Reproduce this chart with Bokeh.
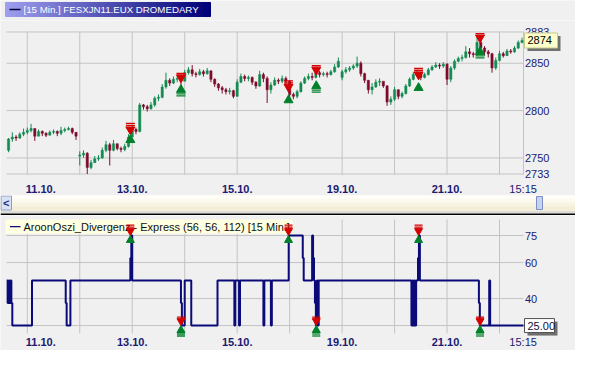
import numpy as np
from bokeh.plotting import figure
from bokeh.models import Range1d
from bokeh.layouts import column
from bokeh.embed import file_html
from bokeh.resources import INLINE
from bokeh.core.properties import value

# ---------------- data (hourly bars, bar 0 = 11.10. 08:00, 14 bars per trading day) -------------
bar_start = -5
closes = [2770, 2772, 2771, 2775, 2777, 2779, 2781, 2773, 2778, 2776, 2774, 2777, 2778, 2776, 2779,
          2780, 2781, 2777, 2773,
          2753, 2755, 2740, 2745, 2749, 2750, 2758, 2764, 2758, 2765, 2760, 2759, 2762, 2772,
          2780, 2778, 2806, 2804, 2802, 2806, 2813, 2814, 2825, 2832, 2829, 2833, 2834, 2831,
          2840, 2843, 2839, 2838, 2841, 2839, 2842, 2833, 2828, 2824, 2822, 2820, 2821, 2815,
          2830, 2836, 2834, 2835, 2830, 2826, 2838, 2834, 2822, 2827, 2832, 2831, 2834, 2831,
          2817, 2815, 2820, 2829, 2834, 2836, 2835, 2840, 2838, 2839, 2838, 2841, 2846, 2852,
          2841, 2843, 2845, 2847, 2850, 2839, 2832, 2822, 2825, 2830, 2831, 2826, 2809, 2812,
          2822, 2815, 2818, 2826, 2833, 2838, 2840, 2835, 2838, 2843, 2846, 2848, 2847, 2849,
          2833, 2845, 2852, 2855, 2856, 2862, 2860, 2859, 2872, 2866, 2862, 2860, 2845, 2853,
          2860, 2858, 2863, 2862, 2866, 2872, 2874]
highs = [2771, 2777, 2774, 2777, 2781, 2782, 2786, 2781, 2780, 2779, 2777, 2779, 2780, 2779, 2783,
         2782, 2783, 2782, 2777,
         2757, 2758, 2756, 2748, 2752, 2753, 2761, 2768, 2766, 2769, 2765, 2762, 2765, 2775,
         2784, 2782, 2808, 2807, 2806, 2809, 2815, 2817, 2828, 2840, 2834, 2836, 2837, 2836,
         2843, 2846, 2848, 2841, 2844, 2843, 2845, 2842, 2834, 2829, 2826, 2824, 2824, 2822,
         2833, 2839, 2838, 2837, 2836, 2831, 2842, 2840, 2836, 2830, 2835, 2834, 2837, 2836,
         2832, 2819, 2822, 2831, 2836, 2839, 2840, 2843, 2842, 2841, 2841, 2843, 2849, 2856,
         2843, 2846, 2847, 2849, 2857, 2852, 2840, 2832, 2829, 2833, 2834, 2830, 2827, 2815,
         2825, 2822, 2820, 2828, 2835, 2841, 2843, 2839, 2840, 2845, 2848, 2851, 2850, 2851,
         2850, 2847, 2854, 2857, 2859, 2868, 2866, 2862, 2878, 2875, 2868, 2864, 2861, 2856,
         2863, 2862, 2865, 2865, 2868, 2874, 2877]
lows = [2756, 2767, 2768, 2770, 2773, 2775, 2777, 2768, 2773, 2773, 2772, 2774, 2775, 2773, 2774,
        2777, 2779, 2775, 2769,
        2742, 2750, 2733, 2738, 2745, 2747, 2749, 2756, 2742, 2757, 2758, 2756, 2757, 2761,
        2772, 2775, 2777, 2801, 2799, 2801, 2804, 2810, 2813, 2823, 2826, 2828, 2830, 2827,
        2831, 2838, 2836, 2835, 2837, 2836, 2838, 2830, 2825, 2821, 2818, 2817, 2817, 2813,
        2815, 2829, 2831, 2831, 2827, 2823, 2825, 2830, 2808, 2818, 2826, 2828, 2829, 2828,
        2813, 2812, 2813, 2819, 2828, 2832, 2832, 2834, 2835, 2836, 2835, 2837, 2840, 2845,
        2832, 2839, 2841, 2843, 2845, 2836, 2829, 2818, 2817, 2824, 2826, 2824, 2805, 2806,
        2810, 2812, 2813, 2817, 2825, 2832, 2836, 2832, 2834, 2837, 2842, 2845, 2844, 2845,
        2827, 2830, 2843, 2851, 2852, 2855, 2856, 2856, 2858, 2860, 2858, 2856, 2840, 2843,
        2852, 2856, 2858, 2860, 2861, 2865, 2871]
gap_opens = {-5: 2758, 14: 2752, 84: 2835}
last_price = 2874

day_starts = [0, 14, 28, 42, 56, 70, 84, 98, 112, 126]
date_ticks = [3.6, 28, 56, 84, 112]
date_labels = ["11.10.", "13.10.", "15.10.", "19.10.", "21.10."]
time_tick = 132.3
time_label = "15:15"
price_ticks = [2733, 2750, 2800, 2850, 2883]
osc_label_ticks = [40, 60, 75]
osc_grid_ticks = [25, 40, 60, 75]
osc_last = 25
osc_last_label = "25.00"

osc_t = [-5.5, -5.25, -5.0, -4.75, -4.5, -4.25, -4.0, 1.25, 10.25, 10.5, 11.5, 27.5, 27.75, 28.0,
         41.0, 41.25, 42.0, 43.75, 50.75, 55.25, 55.5, 56.5, 56.75, 63.0, 63.25, 65.0, 65.25,
         69.75, 73.5, 73.75, 76.0, 76.25, 76.5, 76.75, 77.0, 77.25, 77.5, 77.75, 102.5, 102.75,
         103.0, 103.25, 103.5, 103.75, 104.25, 104.5, 104.75, 120.5, 120.75, 123.25, 123.5, 132.4]
osc_v = [50, 37.5, 50, 37.5, 50, 37.5, 25, 50, 37.5, 25, 50, 62.5, 75, 50,
         37.5, 25, 50, 25, 50, 25, 50, 25, 50, 25, 50, 25, 50,
         75, 62.5, 50, 75, 62.5, 50, 37.5, 25, 50, 25, 50, 25, 50,
         25, 50, 25, 50, 62.5, 75, 50, 37.5, 25, 50, 25, 25]

sig_t = [27.5, 41.0, 69.7, 77.1, 104.4, 120.8]
sig_sell = [2780, 2835, 2825, 2843, 2838, 2877]
sig_buy = [2769, 2822, 2811, 2826, 2824, 2862]
sig_osc = [75, 25, 75, 25, 75, 25]

title_text = "[15 Min.] FESXJN11.EUX DROMEDARY"
ind_text = "AroonOszi_Divergenz - Express  (56, 56, 112) [15 Min.]"

# ---------------- style ----------------
W = 575
BG = "#f0f0f0"
GRID = "#c4c4c4"
NAVY_TXT = "#1a1a70"
LINE = "#0a0a78"
UP = "#138a50"
DOWN = "#7e0a2c"
RED = "#d40000"
GREEN_SIG = "#00802a"
FONT = "Liberation Sans"
XR = (-5.55, 132.4)          # data x-extent of the panes
P_RANGE = (2732.5, 2883.5)
O_RANGE = (20.6, 83.9)
LEFT_PX, PLOT_W_PX = 6, 517


class Pane:
    """Whole-figure frame; the chart region sits inside it at fixed pixel offsets."""
    def __init__(self, height, top_px, frame_h, yr):
        self.ux = (XR[1] - XR[0]) / PLOT_W_PX
        self.uy = (yr[1] - yr[0]) / frame_h
        self.x0 = XR[0] - LEFT_PX * self.ux
        self.x1 = self.x0 + W * self.ux
        self.y1 = yr[1] + top_px * self.uy
        self.y0 = self.y1 - height * self.uy
        self.yr = yr
        self.p = figure(width=W, height=height, x_range=Range1d(self.x0, self.x1),
                        y_range=Range1d(self.y0, self.y1), output_backend="svg",
                        toolbar_location=None, x_axis_location=None, y_axis_location=None,
                        min_border=0, background_fill_color=BG, border_fill_color=BG,
                        outline_line_color=None)
        self.p.xgrid.visible = False
        self.p.ygrid.visible = False

    def dx(self, px):
        return px * self.ux

    def dy(self, px):
        return px * self.uy


def draw_grid(pn, ygrid_ticks):
    p = pn.p
    n = len(day_starts)
    p.segment(x0=day_starts, x1=day_starts, y0=[pn.yr[0]] * n, y1=[pn.yr[1]] * n,
              line_color=GRID, line_width=1)
    m = len(ygrid_ticks)
    p.segment(x0=[XR[0]] * m, x1=[XR[1]] * m, y0=ygrid_ticks, y1=ygrid_ticks,
              line_color=GRID, line_width=1)


def draw_axes_text(pn, yticks, xlab_px):
    p = pn.p
    p.text(x=[XR[1] + pn.dx(1.5)] * len(yticks), y=yticks, text=[str(t) for t in yticks],
           text_color=NAVY_TXT, text_font=value(FONT), text_font_size="11px",
           text_align="left", text_baseline="middle")
    ylab = pn.yr[0] - pn.dy(xlab_px)
    p.text(x=date_ticks, y=[ylab] * len(date_ticks), text=date_labels, text_color=NAVY_TXT,
           text_font=value(FONT), text_font_size="11px", text_font_style="bold",
           text_align="center", text_baseline="middle")
    p.text(x=[time_tick], y=[ylab], text=[time_label], text_color=NAVY_TXT,
           text_font=value(FONT), text_font_size="11px", text_align="center",
           text_baseline="middle")


def add_signals(pn, xs, red_y, green_y, kinds, size):
    p = pn.p
    r = size / 2.0
    a = r * 3 ** 0.5 / 3.0
    rb_x, rb_y, gb_x, gb_y = [], [], [], []
    for x, ry, gy, k in zip(xs, red_y, green_y, kinds):
        rb_x.append(x)
        rb_y.append(ry + pn.dy(a + 1.5))
        if k == 75:
            rb_x.append(x)
            rb_y.append(ry + pn.dy(a + 3.5))
        else:
            gb_x += [x, x]
            gb_y += [gy - pn.dy(a + 1.5), gy - pn.dy(a + 3.5)]
    p.scatter(rb_x, rb_y, marker="dash", size=size, line_color=RED, line_width=1.3)
    p.scatter(gb_x, gb_y, marker="dash", size=size, line_color=GREEN_SIG, line_width=1.3)
    p.scatter(xs, red_y, marker="inverted_triangle", size=size, fill_color=RED, line_color=RED)
    p.scatter(xs, green_y, marker="triangle", size=size, fill_color=GREEN_SIG,
              line_color=GREEN_SIG)


def tag(pn, y, text, w_px, h_px, bg, border, text_color):
    p = pn.p
    left = XR[1] + pn.dx(1)
    right = left + pn.dx(w_px)
    top = y + pn.dy(h_px / 2.0)
    bot = y - pn.dy(h_px / 2.0)
    p.quad(left=[left + pn.dx(3)], right=[right + pn.dx(3)], top=[top - pn.dy(3)],
           bottom=[bot - pn.dy(3)], fill_color="#707070", line_color=None)
    p.quad(left=[left], right=[right], top=[top], bottom=[bot], fill_color=bg,
           line_color=border, line_width=1)
    p.text(x=[left + pn.dx(3)], y=[y], text=[text], text_color=text_color,
           text_font=value(FONT), text_font_size="11px", text_align="left",
           text_baseline="middle")


# ---------------- title band ----------------
p0 = figure(width=W, height=20, x_range=Range1d(0, W), y_range=Range1d(0, 20),
            output_backend="svg", toolbar_location=None, x_axis_location=None,
            y_axis_location=None, min_border=0, background_fill_color=BG,
            border_fill_color=BG, outline_line_color=None)
p0.xgrid.visible = False
p0.ygrid.visible = False
n = 60
edges = np.linspace(5, 210, n + 1)
c0 = np.array([160, 160, 240])
c1 = np.array([0, 0, 118])
cols = ["#%02x%02x%02x" % tuple((c0 + (c1 - c0) * t).astype(int)) for t in (np.arange(n) + 0.5) / n]
p0.quad(left=edges[:-1], right=edges[1:], bottom=4, top=18, fill_color=cols, line_color=cols)
p0.segment(x0=[9], y0=[11], x1=[20], y1=[11], line_color="#00003a", line_width=1.5)
p0.text(x=[23], y=[11], text=[title_text], text_color="white", text_font=value(FONT),
        text_font_size="9.7px", text_baseline="middle")

# ---------------- price pane ----------------
bars = np.arange(bar_start, bar_start + len(closes))
opens = [gap_opens.get(int(b), closes[i - 1] if i > 0 else closes[0]) for i, b in enumerate(bars)]
ccol = [UP if c >= o else DOWN for o, c in zip(opens, closes)]
body_top = [max(o, c) for o, c in zip(opens, closes)]
body_bot = [min(o, c) for o, c in zip(opens, closes)]

pn1 = Pane(175, 11, 143, P_RANGE)
p1 = pn1.p
draw_grid(pn1, price_ticks)
p1.segment(x0=[XR[1]], x1=[XR[1]], y0=[P_RANGE[0]], y1=[P_RANGE[1]], line_color=GRID)
p1.segment(x0=bars, y0=lows, x1=bars, y1=highs, line_color=ccol, line_width=1)
p1.vbar(x=bars, top=body_top, bottom=body_bot, width=0.6, fill_color=ccol, line_color=ccol,
        line_width=0.5)
add_signals(pn1, sig_t, sig_sell, sig_buy, sig_osc, 9)
draw_axes_text(pn1, price_ticks, 14.3)
tag(pn1, last_price, str(last_price), 33, 15, "#ffffc8", "#c8c890", "#000000")

# ---------------- scrollbar ----------------
ps = figure(width=W, height=20, x_range=Range1d(0, W), y_range=Range1d(0, 20),
            output_backend="svg", toolbar_location=None, x_axis_location=None,
            y_axis_location=None, min_border=0, background_fill_color=BG,
            border_fill_color=BG, outline_line_color=None)
ps.xgrid.visible = False
ps.ygrid.visible = False
band_cols = ["#fffef8", "#fcfaee", "#f8f4e2", "#f3eed8"]
band_edges = np.linspace(20, 5, 5)
ps.quad(left=0, right=W, top=band_edges[:-1], bottom=band_edges[1:], fill_color=band_cols,
        line_color=band_cols)
ps.quad(left=[0], right=[W], top=[4.5], bottom=[2.5], fill_color="#dcdcdc", line_color=None)
ps.quad(left=[0], right=[W], top=[2], bottom=[0], fill_color="#000000", line_color=None)
ps.quad(left=[0.5], right=[11], top=[19.5], bottom=[5.5], fill_color="#d9e1f4", line_color="#8e9dc6")
ps.text(x=[5.8], y=[12.5], text=["<"], text_color="#203080", text_font=value(FONT),
        text_font_size="11px", text_font_style="bold", text_align="center", text_baseline="middle")
ps.quad(left=[536], right=[542], top=[19], bottom=[6], fill_color="#c8d3f1", line_color="#7d8fc4")

# ---------------- oscillator pane ----------------
pn2 = Pane(135, 4, 114, O_RANGE)
p2 = pn2.p
draw_grid(pn2, osc_grid_ticks)
# indicator caption box
bx0 = pn2.x0 + pn2.dx(5)
bx1 = pn2.x0 + pn2.dx(292)
by1 = pn2.y1 - pn2.dy(4)
by0 = pn2.y1 - pn2.dy(18.3)
p2.quad(left=[bx0], right=[bx1], top=[by1], bottom=[by0], fill_color="#ffffe1", line_color=None)
p2.segment(x0=[pn2.x0 + pn2.dx(9.5)], x1=[pn2.x0 + pn2.dx(20)], y0=[(by0 + by1) / 2],
           y1=[(by0 + by1) / 2], line_color=LINE, line_width=1.3)
p2.text(x=[pn2.x0 + pn2.dx(23)], y=[(by0 + by1) / 2], text=[ind_text], text_color="#101010",
        text_font=value(FONT), text_font_size="11px", text_align="left", text_baseline="middle")
p2.step(x=osc_t, y=osc_v, mode="after", line_color=LINE, line_width=2)
s2 = 8
a2 = (s2 / 2.0) * 3 ** 0.5 / 3.0
red2 = [v + pn2.dy(2 * a2) for v in sig_osc]
green2 = [v - pn2.dy(2 * a2) for v in sig_osc]
add_signals(pn2, sig_t, red2, green2, sig_osc, s2)
draw_axes_text(pn2, osc_label_ticks, 8.3)
tag(pn2, osc_last, osc_last_label, 30, 14, "#ffffff", "#505050", "#101040")

layout = column(p0, p1, ps, p2, spacing=0)
open("out.html", "w").write(file_html(layout, INLINE))
